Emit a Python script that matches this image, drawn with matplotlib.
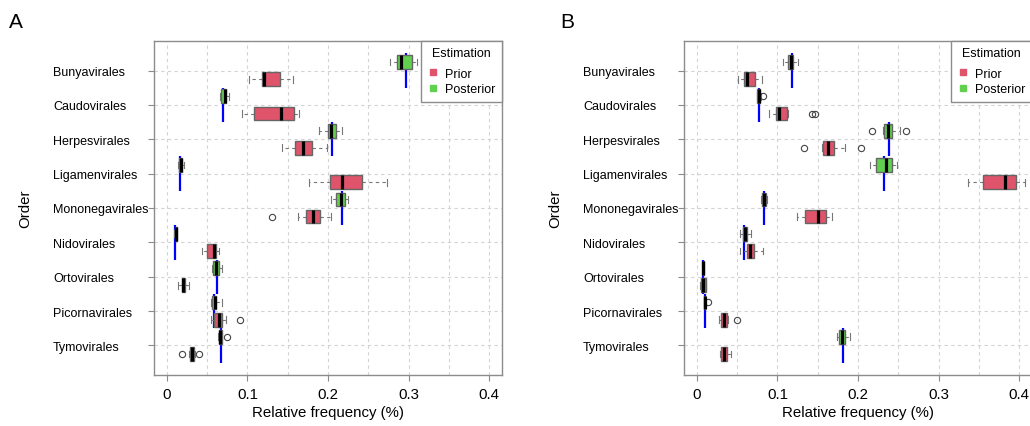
import matplotlib
matplotlib.use("Agg")
import matplotlib.pyplot as plt
from matplotlib.lines import Line2D

plt.rcParams["font.family"] = ["Liberation Sans", "DejaVu Sans"]

orders = ["Bunyavirales", "Caudovirales", "Herpesvirales", "Ligamenvirales",
          "Mononegavirales", "Nidovirales", "Ortovirales", "Picornavirales",
          "Tymovirales"]

# five-number summaries: (whisker low, q1, median, q3, whisker high)
a_posterior = [(0.2775, 0.2857, 0.2911, 0.3048, 0.311),
               (0.066, 0.0675, 0.072, 0.0738, 0.077),
               (0.1893, 0.200, 0.2042, 0.2104, 0.217),
               (0.014, 0.015, 0.017, 0.019, 0.0207),
               (0.2042, 0.2096, 0.2166, 0.2211, 0.2249),
               (0.009, 0.0095, 0.011, 0.0125, 0.013),
               (0.0564, 0.0572, 0.0613, 0.0646, 0.068),
               (0.0543, 0.0564, 0.0597, 0.0613, 0.068),
               (0.064, 0.0645, 0.0663, 0.068, 0.069)]
a_prior = [(0.1019, 0.118, 0.1201, 0.140, 0.1566),
           (0.0932, 0.108, 0.1413, 0.1582, 0.1636),
           (0.1429, 0.159, 0.1686, 0.1801, 0.1988),
           (0.1769, 0.2025, 0.2174, 0.2422, 0.273),
           (0.1628, 0.1727, 0.1814, 0.1905, 0.2034),
           (0.0435, 0.0497, 0.058, 0.0605, 0.0642),
           (0.0137, 0.0183, 0.0204, 0.0224, 0.027),
           (0.0547, 0.0584, 0.0646, 0.0688, 0.0733),
           (0.028, 0.0285, 0.0311, 0.0336, 0.0345)]
a_post_out = [[], [], [], [], [], [], [], [], [0.0745]]
a_prior_out = [[], [], [], [], [0.1305], [], [], [0.0911], [0.0186, 0.0398]]
a_true = [0.2974, 0.0692, 0.2054, 0.0158, 0.217, 0.0095, 0.0626, 0.058, 0.0667]

b_posterior = [(0.1075, 0.1137, 0.117, 0.1199, 0.126),
               (0.074, 0.0752, 0.0769, 0.0785, 0.0795),
               (0.2315, 0.2328, 0.2374, 0.2427, 0.2522),
               (0.2154, 0.2228, 0.2345, 0.242, 0.2485),
               (0.079, 0.0806, 0.0835, 0.086, 0.0875),
               (0.053, 0.057, 0.060, 0.062, 0.0674),
               (0.0072, 0.0075, 0.0082, 0.009, 0.0092),
               (0.0088, 0.0092, 0.0099, 0.0106, 0.011),
               (0.1737, 0.1766, 0.1799, 0.1844, 0.1902)]
b_prior = [(0.0516, 0.0583, 0.0628, 0.0727, 0.081),
           (0.0893, 0.0988, 0.1025, 0.112, 0.1135),
           (0.1558, 0.1571, 0.1633, 0.170, 0.1844),
           (0.3362, 0.3556, 0.3821, 0.3965, 0.4077),
           (0.1245, 0.134, 0.150, 0.1604, 0.168),
           (0.053, 0.062, 0.0662, 0.0707, 0.0823),
           (0.0033, 0.0054, 0.0082, 0.0107, 0.0116),
           (0.0275, 0.0302, 0.0339, 0.0372, 0.038),
           (0.029, 0.0302, 0.0339, 0.0372, 0.0421)]
b_post_out = [[], [0.0826], [0.2175, 0.2597], [], [], [], [], [0.0132], []]
b_prior_out = [[], [0.143, 0.1472], [0.1331, 0.2039], [], [], [], [], [0.0492], []]
b_true = [0.1183, 0.0777, 0.239, 0.232, 0.0835, 0.0587, 0.0074, 0.0103, 0.1811]

PRIOR_COL = "#DF536B"
POST_COL = "#61D04F"
GRID_COL = "#d3d3d3"
FRAME_COL = "#8c8c8c"


def stats(summary, fliers):
    lo, q1, med, q3, hi = summary
    return dict(whislo=lo, q1=q1, med=med, q3=q3, whishi=hi, fliers=fliers)


def draw_panel(ax, posterior, prior, post_out, prior_out, truth):
    n = len(orders)
    bstats, pos, cols = [], [], []
    for i in range(n):
        bstats.append(stats(posterior[i], post_out[i]))
        pos.append(2 * i + 1)
        cols.append(POST_COL)
        bstats.append(stats(prior[i], prior_out[i]))
        pos.append(2 * i + 2)
        cols.append(PRIOR_COL)

    # true values, drawn under the boxes
    for i, t in enumerate(truth):
        p = 2 * i + 1
        ax.plot([t, t], [p - 0.5, p + 1.5], color="#0000FF", lw=1.6, zorder=2,
                solid_capstyle="butt")

    art = ax.bxp(bstats, positions=pos, widths=0.8, capwidths=0.4,
                 orientation="horizontal", patch_artist=True,
                 boxprops=dict(edgecolor="#666666", linewidth=1.0),
                 medianprops=dict(color="black", linewidth=2.3),
                 whiskerprops=dict(color="#777777", linestyle=(0, (3, 3)), linewidth=0.8),
                 capprops=dict(color="#777777", linewidth=0.8),
                 flierprops=dict(marker="o", markersize=4.5, markerfacecolor="none",
                                 markeredgecolor="#444444", markeredgewidth=0.8))
    for patch, c in zip(art["boxes"], cols):
        patch.set_facecolor(c)
        patch.set_zorder(3)
    for m in art["medians"]:
        m.set_zorder(4)

    ax.set_xlim(-0.016, 0.416)
    ax.set_ylim(19.22, -0.22)
    ax.set_xticks([0, 0.1, 0.2, 0.3, 0.4])
    ax.set_xticklabels(["0", "0.1", "0.2", "0.3", "0.4"])
    ax.set_xticks([0.05, 0.15, 0.25, 0.35], minor=True)
    ticks = [2 * i + 1.5 for i in range(n)]
    ax.set_yticks(ticks)
    ax.set_yticklabels(orders)
    ax.tick_params(axis="x", which="minor", length=0)
    ax.tick_params(axis="x", which="major", length=4.3, color=FRAME_COL,
                   labelsize=10.8, pad=4)
    ax.tick_params(axis="y", length=4.3, color=FRAME_COL, labelsize=9, pad=68.4)
    for lbl in ax.get_yticklabels():
        lbl.set_horizontalalignment("left")

    ax.grid(True, which="both", axis="x", color=GRID_COL, linestyle=(0, (3, 3)), lw=0.8)
    ax.grid(True, axis="y", color=GRID_COL, linestyle=(0, (3, 3)), lw=0.8)
    ax.set_axisbelow(True)
    for s in ax.spines.values():
        s.set_color(FRAME_COL)
        s.set_linewidth(1.0)

    ax.set_xlabel("Relative frequency (%)", fontsize=10.8)
    ax.set_ylabel("Order", fontsize=10.8)
    ax.xaxis.set_label_coords(0.5, -0.09)
    ax.yaxis.set_label_coords(-0.35, 0.5)

    handles = [Line2D([], [], marker="s", ls="", color=PRIOR_COL, markersize=4.6),
               Line2D([], [], marker="s", ls="", color=POST_COL, markersize=4.6)]
    leg = ax.legend(handles, ["Prior", "Posterior"], title="Estimation",
                    loc="upper right", bbox_to_anchor=(1, 1), borderaxespad=0,
                    fancybox=False, edgecolor=FRAME_COL, framealpha=1,
                    fontsize=9, title_fontsize=9, handlelength=0.9,
                    handletextpad=0.55, borderpad=0.5, labelspacing=0.3)
    leg._legend_box.sep = 6
    leg.get_frame().set_linewidth(1.0)
    leg.set_zorder(10)


fig = plt.figure(figsize=(10.30, 4.27), dpi=100)
W, H = 1030, 427
ax_a = fig.add_axes([154 / W, 1 - 376 / H, 348 / W, 334 / H])
ax_b = fig.add_axes([684 / W, 1 - 376 / H, 348 / W, 334 / H])

draw_panel(ax_a, a_posterior, a_prior, a_post_out, a_prior_out, a_true)
draw_panel(ax_b, b_posterior, b_prior, b_post_out, b_prior_out, b_true)

fig.text(16 / W, 1 - 23 / H, "A", fontsize=15, ha="center", va="center")
fig.text(567 / W, 1 - 23 / H, "B", fontsize=15, ha="center", va="center")

fig.savefig("out.png", dpi=100)
